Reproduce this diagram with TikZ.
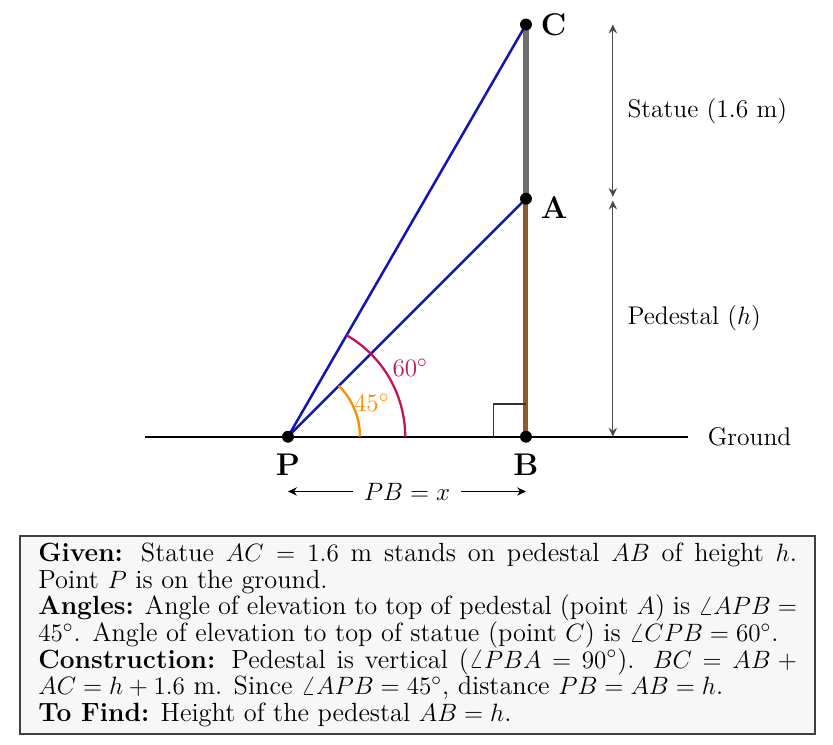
\documentclass[tikz,border=0pt]{standalone}
\usepackage{tikz}
\usetikzlibrary{arrows.meta, positioning}
\usepackage{xcolor}
\definecolor{lineblue}{RGB}{20,20,180}
\definecolor{arcred}{RGB}{195,20,90}
\definecolor{arcorange}{RGB}{255,140,0}
\definecolor{pedbrown}{RGB}{140,90,45}
\definecolor{statgray}{RGB}{110,110,110}

\begin{document}
\begin{tikzpicture}[
  font=\fontsize{12.2}{13.6}\selectfont,
  dot/.style={circle, fill=black, inner sep=0pt, minimum size=0.2cm},
  ptlabel/.style={font=\fontsize{15}{17}\selectfont\bfseries},
  sight/.style={lineblue, line width=1.2pt},
  tip/.style={Stealth[length=1.5mm, width=1.4mm]},
  dimline/.style={black!70, line width=0.6pt, {Stealth[length=1.5mm, width=1.4mm]}-{Stealth[length=1.5mm, width=1.4mm]}},
  infobox/.style={rectangle, draw=black!75, line width=0.8pt, fill=gray!6, text width=12.75cm, align=justify, inner xsep=0.22cm, inner ysep=0.12cm, minimum width=13.36cm, font=\fontsize{12.6}{12.7}\selectfont}
]
\useasboundingbox (-4.84,-5.18) rectangle (9.16,7.34);

% Points
\coordinate (P) at (0,0);
\coordinate (B) at (4,0);
\coordinate (A) at (4,4);
\coordinate (C) at (4,6.928);
\coordinate (gl) at (-2.40,0);
\coordinate (gr) at (6.72,0);

% Ground
\draw[line width=1.1pt] (gl) -- (gr) node[right=0.2cm] (ground) {Ground};

% Pedestal and statue
\draw[pedbrown, line width=2.4pt] (B) -- (A);
\draw[statgray, line width=2.6pt] (A) -- (C);

% Right angle at B
\draw[black!80, line width=0.5pt] (3.45,0) -- (3.45,0.55) -- (4,0.55);

% Lines of sight
\draw[sight] (P) -- (A);
\draw[sight] (P) -- (C);

% Angles
\draw[arcorange, line width=1.1pt] (1.21,0) arc[start angle=0, end angle=45, radius=1.21];
\draw[arcred, line width=1.1pt] (1.97,0) arc[start angle=0, end angle=60, radius=1.97];
\node[arcorange] (a45) at (22:1.52) {$45^\circ$};
\node[arcred] (a60) at (29.5:2.36) {$60^\circ$};

% Dots and labels
\foreach \pt in {P,B,A,C}
  \node[dot] (d\pt) at (\pt) {};
\node[ptlabel, right=0.02cm of dC] (lC) {C};
\node[ptlabel, right=0.02cm of dA, yshift=-0.15cm] (lA) {A};
\node[ptlabel, below=0.06cm of dP] (lP) {P};
\node[ptlabel, below=0.06cm of dB] (lB) {B};

% Dimensions
\coordinate (sT) at (5.46,6.93);
\coordinate (sB) at (5.46,4.03);
\coordinate (hT) at (5.46,3.97);
\coordinate (hB) at (5.46,0);
\draw[dimline] (sT) -- node[right=0.12cm, text=black] {Statue (1.6 m)} (sB);
\draw[dimline] (hT) -- node[right=0.12cm, text=black] {Pedestal ($h$)} (hB);

\coordinate (xL) at (0,-0.92);
\coordinate (xR) at (4,-0.92);
\draw[black, line width=0.6pt, {Stealth[length=1.5mm, width=1.4mm]}-{Stealth[length=1.5mm, width=1.4mm]}] (xL) -- node[fill=white, inner xsep=5pt] {$PB = x$} (xR);

% Info box
\node[infobox] (info) at (2.18,-3.33) {%
\textbf{Given:} Statue $AC = 1.6$ m stands on pedestal $AB$ of height $h$. Point $P$ is on the ground.\\
\textbf{Angles:} Angle of elevation to top of pedestal (point $A$) is $\angle APB = 45^\circ$. Angle of elevation to top of statue (point $C$) is $\angle CPB = 60^\circ$.\\
\textbf{Construction:} Pedestal is vertical ($\angle PBA = 90^\circ$). $BC = AB + AC = h + 1.6$ m. Since $\angle APB = 45^\circ$, distance $PB = AB = h$.\\
\textbf{To Find:} Height of the pedestal $AB = h$.};

\end{tikzpicture}
\end{document}
